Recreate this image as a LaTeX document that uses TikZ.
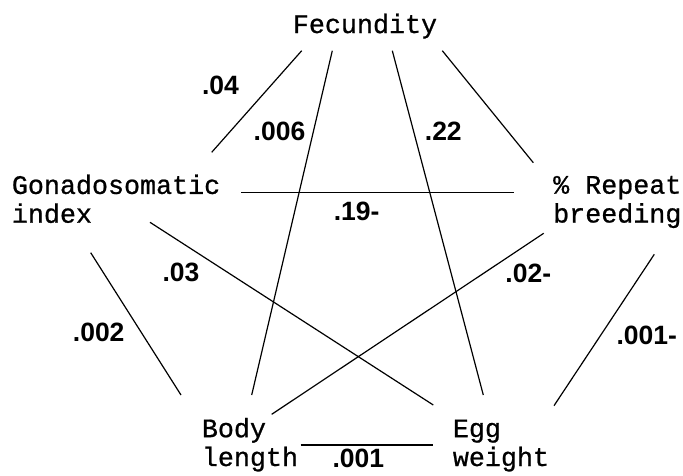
\documentclass[tikz,border=0pt]{standalone}
\usepackage{fontspec}
\setmonofont{Liberation Mono}[FakeBold=0.8]
\setsansfont{Liberation Sans}
\usetikzlibrary{positioning}
\tikzset{
  trait/.style={font=\ttfamily\fontsize{26.7}{28.8}\selectfont,align=left,
    inner sep=0pt,anchor=base west},
  pval/.style={font=\sffamily\bfseries\fontsize{26.5}{28}\selectfont,inner sep=0pt},
  link/.style={line width=1.2pt,black}
}

\begin{document}
\begin{tikzpicture}[x=1pt,y=-1pt]
\useasboundingbox (0,0) rectangle (683,475);
\node[trait] (fec) at (292.7,33) {Fecundity};
\node[trait] (gsi) at (11.7,222.7) {Gonadosomatic\\index};
\node[trait] (rep) at (553,222.5) {\% Repeat\\breeding};
\node[trait] (body) at (201.7,466) {Body\\length};
\node[trait] (egg) at (452.7,466) {Egg\\weight};
% line ends next to each trait
\foreach \name/\x/\y in {fec-gsi/301.7/50.7, fec-body/332.3/50.7,
    fec-egg/392.3/50.7, fec-rep/442.3/50.7,
    gsi-fec/211.7/152.3, gsi-rep/241/192.3, gsi-egg/150/222.3, gsi-body/90.7/252.7,
    rep-fec/533.3/162.7, rep-gsi/514/192.3, rep-body/543.7/233.3, rep-egg/654.3/254.3,
    body-gsi/181/395, body-fec/251.7/395, body-rep/271.7/414.3, body-egg/300.7/445,
    egg-gsi/433.3/405, egg-fec/483.3/395, egg-rep/554/405.7, egg-body/433.3/445}
  \coordinate (\name) at (\x,\y);
\foreach \a/\b in {fec/gsi,fec/body,fec/egg,fec/rep,gsi/rep,gsi/egg,
    gsi/body,rep/body,rep/egg,body/egg}
  \draw[link] (\a-\b)--(\b-\a);
\node[pval] (p-fg) at (220.5,85) {.04};
\node[pval] (p-fb) at (279.5,131.3) {.006};
\node[pval] (p-fe) at (443.3,131.3) {.22};
\node[pval] (p-gr) at (356.7,211.7) {.19-};
\node[pval] (p-ge) at (181,272.3) {.03};
\node[pval] (p-rb) at (528.3,273.5) {.02-};
\node[pval] (p-gb) at (98.7,332.3) {.002};
\node[pval] (p-re) at (646.7,335) {.001-};
\node[pval] (p-be) at (358.3,458) {.001};
\end{tikzpicture}
\end{document}
